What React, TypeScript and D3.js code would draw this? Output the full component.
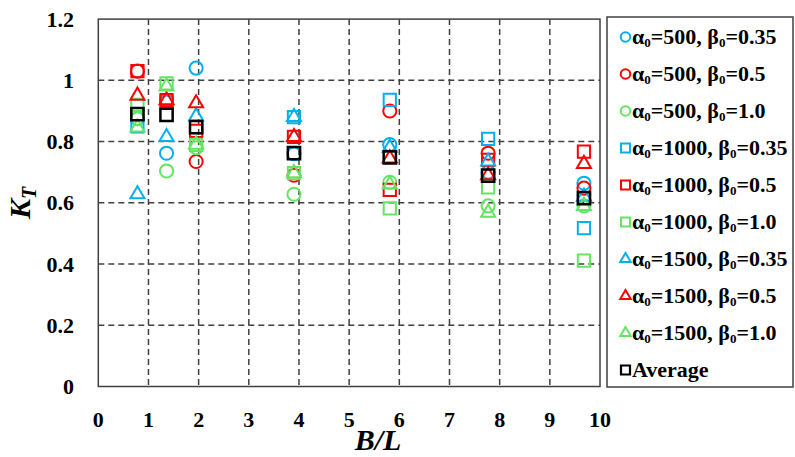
import React, { useRef, useEffect } from 'react';
import * as d3 from 'd3';

// B/L positions shared by all series
const bl = [0.78, 1.36, 1.95, 3.9, 5.81, 7.77, 9.68];

const a500b035 = [0.875, 0.762, 1.04, 0.76, 0.79, 0.7, 0.664];
const a500b05 = [1.03, 0.935, 0.735, 0.69, 0.9, 0.762, 0.648];
const a500b10 = [0.875, 0.704, 0.78, 0.628, 0.667, 0.59, 0.59];
const a1000b035 = [0.85, 0.93, 0.847, 0.88, 0.936, 0.809, 0.517];
const a1000b05 = [1.03, 0.935, 0.835, 0.815, 0.642, 0.74, 0.767];
const a1000b10 = [0.92, 0.99, 0.789, 0.697, 0.582, 0.65, 0.411];
const a1500b035 = [0.628, 0.815, 0.882, 0.88, 0.78, 0.735, 0.62];
const a1500b05 = [0.95, 0.935, 0.925, 0.815, 0.745, 0.69, 0.727];
const a1500b10 = [0.846, 0.98, 0.79, 0.697, 0.66, 0.568, 0.59];
const average = [0.89, 0.887, 0.847, 0.762, 0.748, 0.689, 0.615];

const xTicks = [0, 1, 2, 3, 4, 5, 6, 7, 8, 9, 10];
const yTicks = [0, 0.2, 0.4, 0.6, 0.8, 1.0, 1.2];

const BLUE = '#00b0f0';
const RED = '#ff0000';
const GREEN = '#63e563';

interface Series {
  alpha: string;
  beta: string;
  values: number[];
  shape: d3.SymbolType;
  color: string;
}

const series: Series[] = [
  { alpha: '500', beta: '0.35', values: a500b035, shape: d3.symbolCircle, color: BLUE },
  { alpha: '500', beta: '0.5', values: a500b05, shape: d3.symbolCircle, color: RED },
  { alpha: '500', beta: '1.0', values: a500b10, shape: d3.symbolCircle, color: GREEN },
  { alpha: '1000', beta: '0.35', values: a1000b035, shape: d3.symbolSquare, color: BLUE },
  { alpha: '1000', beta: '0.5', values: a1000b05, shape: d3.symbolSquare, color: RED },
  { alpha: '1000', beta: '1.0', values: a1000b10, shape: d3.symbolSquare, color: GREEN },
  { alpha: '1500', beta: '0.35', values: a1500b035, shape: d3.symbolTriangle, color: BLUE },
  { alpha: '1500', beta: '0.5', values: a1500b05, shape: d3.symbolTriangle, color: RED },
  { alpha: '1500', beta: '1.0', values: a1500b10, shape: d3.symbolTriangle, color: GREEN }
];

const plotSize = (s: d3.SymbolType) =>
  s === d3.symbolCircle ? 135 : s === d3.symbolSquare ? 150 : 85;
const legendSize = (s: d3.SymbolType) =>
  s === d3.symbolCircle ? 72 : s === d3.symbolSquare ? 81 : 48;

const W = 795;
const H = 457;

const App: React.FC = () => {
  const ref = useRef<SVGSVGElement | null>(null);

  useEffect(() => {
    if (!ref.current) return;
    const svg = d3.select(ref.current);
    svg.selectAll('*').remove();

    const x = d3.scaleLinear().domain([0, 10]).range([98.3, 600]);
    const y = d3.scaleLinear().domain([0, 1.2]).range([386.5, 19.1]);
    const font = '"Liberation Serif", "Times New Roman", serif';

    svg.append('rect').attr('width', W).attr('height', H).attr('fill', '#fff');

    // dashed grid
    const grid = svg.append('g').attr('stroke', '#404040').attr('stroke-width', 1.5).attr('stroke-dasharray', '6,4');
    grid.selectAll('line.v')
      .data(xTicks.slice(1, -1))
      .join('line')
      .attr('x1', d => x(d)).attr('x2', d => x(d))
      .attr('y1', y(1.2)).attr('y2', y(0));
    grid.selectAll('line.h')
      .data(yTicks.slice(1, -1))
      .join('line')
      .attr('x1', x(0)).attr('x2', x(10))
      .attr('y1', d => y(d)).attr('y2', d => y(d));

    // frame
    svg.append('rect')
      .attr('x', x(0)).attr('y', y(1.2))
      .attr('width', x(10) - x(0)).attr('height', y(0) - y(1.2))
      .attr('fill', 'none').attr('stroke', '#404040').attr('stroke-width', 1.5);

    // tick labels
    svg.append('g').selectAll('text')
      .data(yTicks)
      .join('text')
      .attr('x', 74).attr('y', d => y(d) + 7.5)
      .attr('text-anchor', 'end')
      .attr('font-family', font).attr('font-weight', 'bold').attr('font-size', 22)
      .text(d => d3.format('')(d));
    svg.append('g').selectAll('text')
      .data(xTicks)
      .join('text')
      .attr('x', d => x(d)).attr('y', 427)
      .attr('text-anchor', 'middle')
      .attr('font-family', font).attr('font-weight', 'bold').attr('font-size', 22)
      .text(d => String(d));

    // axis titles
    svg.append('text')
      .attr('x', 378).attr('y', 450)
      .attr('text-anchor', 'middle')
      .attr('font-family', font).attr('font-weight', 'bold').attr('font-style', 'italic').attr('font-size', 30)
      .text('B/L');
    const yl = svg.append('text')
      .attr('transform', 'translate(30,203) rotate(-90)')
      .attr('text-anchor', 'middle')
      .attr('font-family', font).attr('font-weight', 'bold').attr('font-style', 'italic').attr('font-size', 30);
    yl.append('tspan').text('K');
    yl.append('tspan').attr('font-size', 20).attr('dy', 6).text('T');

    // points
    const pts = svg.append('g');
    series.forEach(s => {
      pts.append('g').selectAll('path')
        .data(s.values)
        .join('path')
        .attr('transform', (d, i) => `translate(${x(bl[i])},${y(d)})`)
        .attr('d', d3.symbol().type(s.shape).size(plotSize(s.shape))())
        .attr('fill', 'none')
        .attr('stroke', s.color)
        .attr('stroke-width', 2);
    });
    pts.append('g').selectAll('path')
      .data(average)
      .join('path')
      .attr('transform', (d, i) => `translate(${x(bl[i])},${y(d)})`)
      .attr('d', d3.symbol().type(d3.symbolSquare).size(150)())
      .attr('fill', 'none')
      .attr('stroke', '#000')
      .attr('stroke-width', 2.5);

    // legend
    svg.append('rect')
      .attr('x', 607).attr('y', 17).attr('width', 186).attr('height', 370)
      .attr('fill', '#fff').attr('stroke', '#404040').attr('stroke-width', 1.5);
    const leg = svg.append('g');
    const rowY = (i: number) => 37 + i * 37;
    series.forEach((s, i) => {
      leg.append('path')
        .attr('transform', `translate(625.5,${rowY(i)})`)
        .attr('d', d3.symbol().type(s.shape).size(legendSize(s.shape))())
        .attr('fill', 'none').attr('stroke', s.color).attr('stroke-width', 2);
      const t = leg.append('text')
        .attr('x', 632).attr('y', rowY(i) + 7)
        .attr('font-family', font).attr('font-weight', 'bold').attr('font-size', 22);
      t.append('tspan').text('α');
      t.append('tspan').attr('font-size', 13).attr('dy', 3).text('0');
      t.append('tspan').attr('dy', -3).text(`=${s.alpha}, β`);
      t.append('tspan').attr('font-size', 13).attr('dy', 3).text('0');
      t.append('tspan').attr('dy', -3).text(`=${s.beta}`);
    });
    leg.append('path')
      .attr('transform', `translate(625.5,${rowY(9)})`)
      .attr('d', d3.symbol().type(d3.symbolSquare).size(81)())
      .attr('fill', 'none').attr('stroke', '#000').attr('stroke-width', 2.2);
    leg.append('text')
      .attr('x', 632).attr('y', rowY(9) + 7)
      .attr('font-family', font).attr('font-weight', 'bold').attr('font-size', 22)
      .text('Average');
  }, []);

  return (
    <svg
      ref={ref}
      width={W}
      height={H}
      viewBox={`0 0 ${W} ${H}`}
      style={{ position: 'absolute', left: 0, top: 0, display: 'block' }}
    />
  );
};

export default App;
